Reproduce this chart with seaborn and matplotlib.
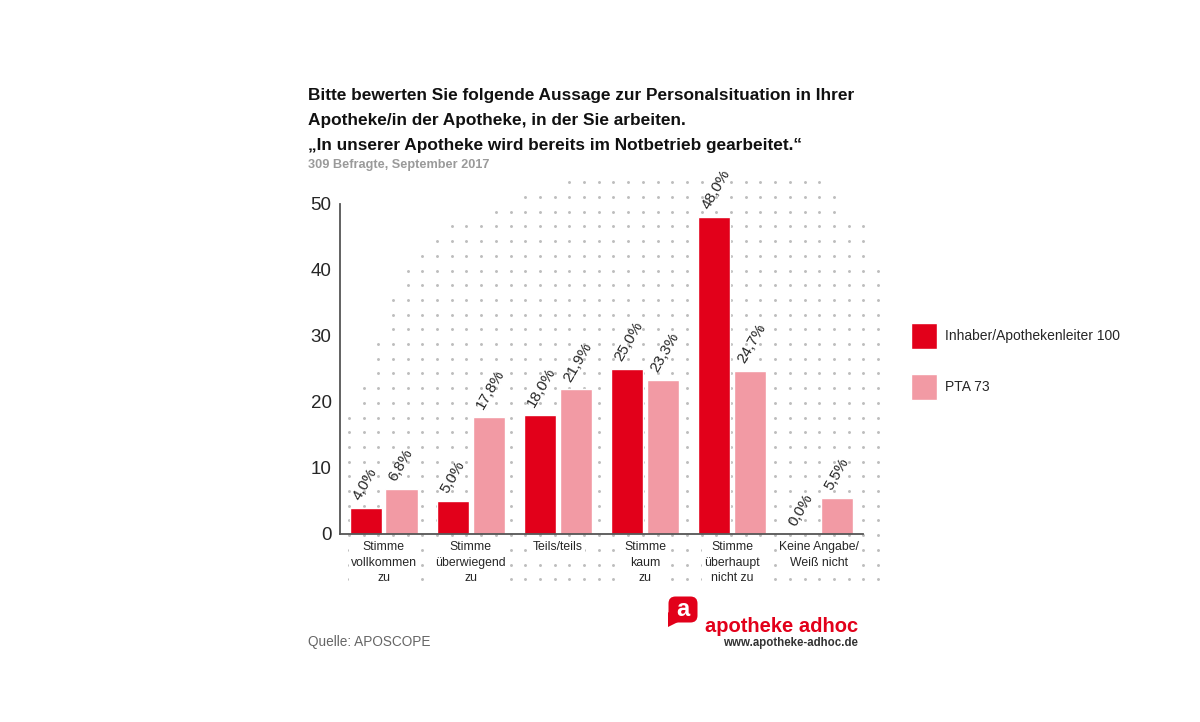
import pandas as pd
import numpy as np
import matplotlib
matplotlib.use('Agg')
import matplotlib.pyplot as plt
import seaborn as sns
from matplotlib.patches import FancyBboxPatch, Polygon

# ---------------------------------------------------------
# Daten
# ---------------------------------------------------------
kategorien = ['Stimme\nvollkommen\nzu', 'Stimme\nüberwiegend\nzu', 'Teils/teils',
              'Stimme\nkaum\nzu', 'Stimme\nüberhaupt\nnicht zu', 'Keine Angabe/\nWeiß nicht']
gruppen = ['Inhaber/Apothekenleiter 100', 'PTA 73']
werte_inhaber = [4.0, 5.0, 18.0, 25.0, 48.0, 0.0]
werte_pta = [6.8, 17.8, 21.9, 23.3, 24.7, 5.5]
y_ticks = [0, 10, 20, 30, 40, 50]

titel_zeilen = ['Bitte bewerten Sie folgende Aussage zur Personalsituation in Ihrer',
                'Apotheke/in der Apotheke, in der Sie arbeiten.',
                '\u201eIn unserer Apotheke wird bereits im Notbetrieb gearbeitet.\u201c']
untertitel = '309 Befragte, September 2017'
quelle = 'Quelle: APOSCOPE'

df = pd.DataFrame({
    'Kategorie': kategorien * 2,
    'Gruppe': [gruppen[0]] * len(kategorien) + [gruppen[1]] * len(kategorien),
    'Wert': werte_inhaber + werte_pta,
})

ROT = '#e2001a'
ROSA = '#f29aa4'

sns.set_style('white')
plt.rcParams['font.family'] = ['Liberation Sans', 'DejaVu Sans']

fig = plt.figure(figsize=(12, 7.22), dpi=100)

# Hintergrund-Ebene in Pixelkoordinaten (Punktraster + Logo + Texte)
bg = fig.add_axes([0, 0, 1, 1], zorder=0)
bg.set_xlim(0, 1200)
bg.set_ylim(722, 0)
bg.axis('off')

rand_y = [182, 198, 213, 227, 242, 257, 271, 301, 344, 420, 600]
rand_links = [566, 522, 480, 450, 435, 420, 405, 391, 377, 347, 347]
rand_rechts = [820, 835, 849, 864, 864, 864, 879, 879, 879, 879, 879]
xs = 348.8 + 14.7 * np.arange(37)
ys = 182.3 + 14.7 * np.arange(28)
gx, gy = np.meshgrid(xs, ys)
maske = (gx >= np.interp(gy, rand_y, rand_links)) & (gx <= np.interp(gy, rand_y, rand_rechts))
bg.scatter(gx[maske], gy[maske], s=4.5, color='#bdbdbd', linewidths=0)

# Logo
bg.add_patch(FancyBboxPatch((670, 598), 26, 23, boxstyle='round,pad=1.5,rounding_size=7',
                            fc=ROT, ec='none'))
bg.add_patch(Polygon([[668, 612], [668, 627], [680, 621]], closed=True, fc=ROT, ec='none'))
bg.text(683, 610, 'a', color='white', fontsize=17, fontweight='bold', ha='center', va='center')
bg.text(858, 632, 'apotheke adhoc', color=ROT, fontsize=14.5, fontweight='bold', ha='right',
        va='baseline')
bg.text(858, 646, 'www.apotheke-adhoc.de', color='#333333', fontsize=8.3, fontweight='bold',
        ha='right', va='baseline')

# Titel
for i, zeile in enumerate(titel_zeilen):
    bg.text(308, 100 + 25 * i, zeile, fontsize=12.4, fontweight='bold', color='#111111',
            va='baseline')
bg.text(308, 168, untertitel, fontsize=9.2, fontweight='bold', color='#9a9a9a', va='baseline')
bg.text(308, 646, quelle, fontsize=9.8, color='#666666', va='baseline')

# ---------------------------------------------------------
# Diagramm
# ---------------------------------------------------------
ax = fig.add_axes([340 / 1200, 1 - 534 / 722, (863 - 340) / 1200, (534 - 204) / 722], zorder=1)
ax.patch.set_alpha(0)

sns.barplot(data=df, x='Kategorie', y='Wert', hue='Gruppe', palette=[ROT, ROSA],
            width=0.82, gap=0.1, ax=ax, saturation=1, legend=True)

ax.set_xlim(-0.5, 5.5)
ax.set_ylim(0, 50)
ax.set_yticks(y_ticks)
ax.set_xlabel('')
ax.set_ylabel('')

for s in ['top', 'right']:
    ax.spines[s].set_visible(False)
for s in ['left', 'bottom']:
    ax.spines[s].set_color('#555555')
    ax.spines[s].set_linewidth(1.3)

ax.tick_params(axis='y', direction='in', length=9, width=1.3, color='#555555',
               labelsize=13.5, pad=6)
ax.tick_params(axis='x', which='major', length=0, labelsize=8.8, pad=5)
for lbl in ax.get_xticklabels():
    lbl.set_linespacing(1.4)
    lbl.set_bbox(dict(fc='white', ec='none', pad=1.5))
ax.set_xticks(np.arange(0.5, 6, 1), minor=True)
ax.tick_params(axis='x', which='minor', direction='in', length=7, width=1.3, color='#555555')

# Werte-Beschriftung
for cont in ax.containers:
    for bar in cont:
        h = bar.get_height()
        ax.annotate(f'{h:.1f}'.replace('.', ',') + '%',
                    xy=(bar.get_x(), h), xytext=(7.5, 5),
                    textcoords='offset points', ha='left', va='baseline', rotation=60,
                    rotation_mode='anchor', fontsize=11, annotation_clip=False)

# Legende
handles, labels = ax.get_legend_handles_labels()
ax.get_legend().remove()
fig.legend(handles, labels, loc='upper left', bbox_to_anchor=(911 / 1200, 1 - 323 / 722),
           frameon=False, fontsize=10, handlelength=1.87, handleheight=2.5,
           handletextpad=0.6, labelspacing=1.8, borderpad=0, borderaxespad=0)

plt.savefig('out.png', dpi=100)
